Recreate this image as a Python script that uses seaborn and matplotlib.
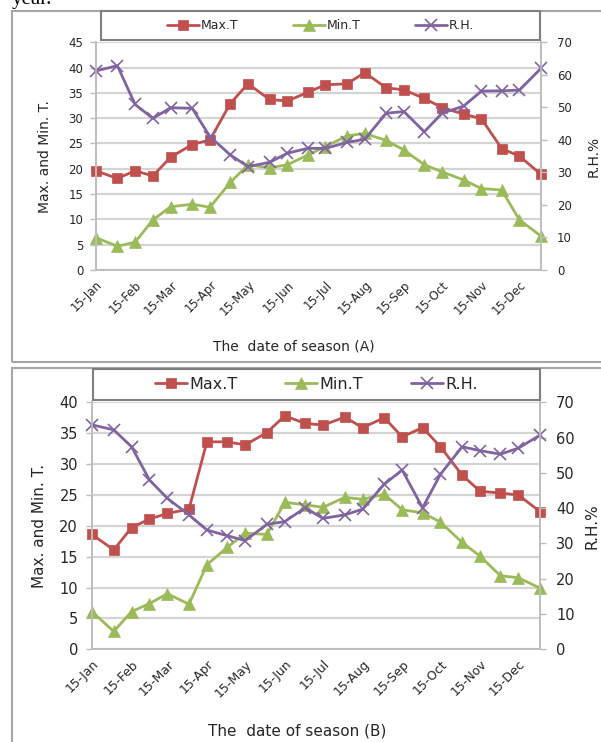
"""
Max./Min. temperature and relative humidity for two seasons (A and B)
"""

import matplotlib
matplotlib.use('Agg')
import matplotlib.pyplot as plt
import matplotlib.dates as mdates
from matplotlib.patches import Rectangle
import seaborn as sns
import pandas as pd

# half-monthly observation dates
DATES = ['2013-01-15', '2013-02-01', '2013-02-15', '2013-03-01', '2013-03-15', '2013-04-01',
         '2013-04-15', '2013-05-01', '2013-05-15', '2013-06-01', '2013-06-15', '2013-07-01',
         '2013-07-15', '2013-08-01', '2013-08-15', '2013-09-01', '2013-09-15', '2013-10-01',
         '2013-10-15', '2013-11-01', '2013-11-15', '2013-12-01', '2013-12-15', '2014-01-01']

# season A
max_t_a = [19.6, 18.1, 19.6, 18.6, 22.3, 24.8, 25.7, 32.9, 36.8, 33.7, 33.4, 35.1,
           36.6, 36.8, 39.0, 36.0, 35.6, 33.9, 32.1, 30.8, 29.9, 24.0, 22.5, 18.9]
min_t_a = [6.4, 4.7, 5.5, 9.9, 12.5, 13.0, 12.4, 17.3, 20.8, 20.2, 20.8, 22.7,
           24.4, 26.5, 27.0, 25.6, 23.7, 20.8, 19.4, 17.8, 16.1, 15.8, 9.9, 6.7]
rh_a = [61.2, 62.8, 50.9, 46.6, 49.9, 49.7, 41.0, 35.4, 31.8, 33.1, 35.9, 37.4,
        37.4, 39.2, 40.2, 48.2, 48.7, 42.5, 48.2, 50.4, 55.0, 55.1, 55.3, 62.0]

# season B
max_t_b = [18.6, 16.1, 19.7, 21.1, 22.0, 22.7, 33.6, 33.6, 33.1, 35.1, 37.8, 36.6,
           36.3, 37.6, 35.9, 37.5, 34.4, 35.9, 32.8, 28.2, 25.6, 25.3, 25.0, 22.3]
min_t_b = [6.1, 2.9, 6.1, 7.4, 9.0, 7.3, 13.7, 16.5, 18.8, 18.6, 23.8, 23.4,
           23.0, 24.6, 24.3, 25.1, 22.6, 22.1, 20.6, 17.3, 15.1, 11.9, 11.6, 9.9]
rh_b = [63.6, 62.2, 57.4, 48.0, 42.8, 38.1, 33.8, 32.2, 30.8, 35.4, 36.2, 40.1,
        37.1, 38.1, 39.7, 46.8, 50.8, 40.1, 49.6, 57.4, 56.3, 55.3, 57.0, 60.7]

RED = '#c0504d'
GREEN = '#9bbb59'
PURPLE = '#8064a2'
TXT = '#262626'

W, H = 601, 742

sns.set_style('white')
plt.rcParams['font.family'] = ['DejaVu Sans']


def px_rect(left, top, right, bottom):
    """pixel box (from top-left) -> figure fraction rect"""
    return [left / W, (H - bottom) / H, (right - left) / W, (bottom - top) / H]


def draw_panel(fig, rect, legend_box, df, ymax, season, fs, xlab_pos, ylab_x, rh_lab_x):
    """Draw one season panel with twin R.H. axis"""
    ax = fig.add_axes(rect)
    ax2 = ax.twinx()

    sns.lineplot(data=df, x='date', y='max_t', ax=ax, color=RED, marker='s',
                 markersize=6.5, markeredgecolor=RED, markeredgewidth=0.5,
                 linewidth=2, label='Max.T', legend=False, clip_on=False)
    sns.lineplot(data=df, x='date', y='min_t', ax=ax, color=GREEN, marker='^',
                 markersize=9, markeredgecolor=GREEN, markeredgewidth=0.5,
                 linewidth=2, label='Min.T', legend=False, clip_on=False)
    sns.lineplot(data=df, x='date', y='rh', ax=ax2, color=PURPLE, marker='x',
                 markersize=8, markeredgecolor=PURPLE, markeredgewidth=1.2,
                 linewidth=2, label='R.H.', legend=False, clip_on=False)

    ax.set_xlim(df['date'].iloc[0], df['date'].iloc[-1])
    ax.set_ylim(0, ymax)
    ax.set_yticks(range(0, ymax + 1, 5))
    ax2.set_ylim(0, 70)
    ax2.set_yticks(range(0, 71, 10))

    ax.xaxis.set_major_locator(mdates.MonthLocator(bymonthday=15))
    ax.xaxis.set_major_formatter(mdates.DateFormatter('%d-%b'))
    for lab in ax.get_xticklabels():
        lab.set_rotation(45)
        lab.set_ha('right')
        lab.set_rotation_mode('anchor')

    ax.grid(axis='y', color='#d4d4d4', linewidth=1.6)
    ax.grid(axis='x', visible=False)
    ax.set_axisbelow(True)
    for a in (ax, ax2):
        a.spines['top'].set_visible(False)
        for s in ('left', 'right', 'bottom'):
            a.spines[s].set_color('#bdbdbd')
            a.spines[s].set_linewidth(1.2)
    ax.tick_params(axis='y', direction='out', length=4, width=1, color='#bdbdbd',
                   labelcolor=TXT, labelsize=fs['tick'], pad=fs['lpad'])
    ax.tick_params(axis='x', direction='out', length=4, width=1, color='#bdbdbd',
                   labelcolor=TXT, labelsize=fs['xtick'], pad=2)
    ax2.tick_params(axis='y', direction='out', length=4, width=1, color='#bdbdbd',
                    labelcolor=TXT, labelsize=fs['tick'], pad=7.5)

    ax.set_xlabel(f'The  date of season ({season})', fontsize=fs['label'], color=TXT)
    ax.xaxis.set_label_coords(*xlab_pos)
    ax.set_ylabel('Max. and Min. T.', fontsize=fs['label'], color=TXT)
    ax.yaxis.set_label_coords(ylab_x, 0.5)
    ax2.set_ylabel('R.H.%', fontsize=fs['label'], color=TXT)
    ax2.yaxis.set_label_coords(rh_lab_x, 0.5)

    # legend box, then the entries centred in it
    fig.patches.append(Rectangle((legend_box[0], legend_box[1]), legend_box[2], legend_box[3],
                                 transform=fig.transFigure, fill=True, facecolor='white',
                                 edgecolor='#7f7f7f', linewidth=1.5, zorder=5))
    handles = ax.get_lines()[:2] + ax2.get_lines()[:1]
    leg = fig.legend(handles, ['Max.T', 'Min.T', 'R.H.'], ncol=3, loc='center',
                     bbox_to_anchor=(legend_box[0] + legend_box[2] / 2,
                                     legend_box[1] + legend_box[3] / 2),
                     fontsize=fs['legend'], frameon=False, borderaxespad=0,
                     handlelength=fs['hlen'], handletextpad=0.15,
                     columnspacing=fs['colsp'], numpoints=1)
    leg.set_zorder(6)
    for t in leg.get_texts():
        t.set_color(TXT)
    return ax


fig = plt.figure(figsize=(W / 100, H / 100), dpi=100)

# text of the page that is cut off at the top
fig.text(12 / W, 1 - 4 / H, 'year.', fontsize=15, family='Liberation Serif',
         va='baseline', ha='left', color='black')

# outer frames of the two chart objects
fig.patches.append(Rectangle((12 / W, (H - 362) / H), 700 / W, 351 / H, transform=fig.transFigure,
                             fill=False, edgecolor='#a6a6a6', linewidth=1.5))
fig.patches.append(Rectangle((12 / W, -20 / H), 700 / W, (H - 368 + 20) / H, transform=fig.transFigure,
                             fill=False, edgecolor='#a6a6a6', linewidth=1.5))

dates = pd.to_datetime(DATES)
df_a = pd.DataFrame({'date': dates, 'max_t': max_t_a, 'min_t': min_t_a, 'rh': rh_a})
df_b = pd.DataFrame({'date': dates, 'max_t': max_t_b, 'min_t': min_t_b, 'rh': rh_b})

fs_a = {'tick': 8.5, 'xtick': 8.5, 'label': 10, 'legend': 9, 'hlen': 2.6, 'colsp': 4.3, 'lpad': 5}
fs_b = {'tick': 10.5, 'xtick': 9, 'label': 11, 'legend': 11.5, 'hlen': 2.0, 'colsp': 3.0, 'lpad': 6}

draw_panel(fig, px_rect(95.8, 42.3, 541, 270), px_rect(101, 11, 540, 40), df_a, 45, 'A', fs_a,
           (0.445, -0.307), -0.098, 1.103)
draw_panel(fig, px_rect(92, 402.3, 540, 649.3), px_rect(93, 369, 540, 400), df_b, 40, 'B', fs_b,
           (0.458, -0.302), -0.100, 1.100)

fig.savefig('out.png', dpi=100)
plt.close(fig)
print('saved out.png')
